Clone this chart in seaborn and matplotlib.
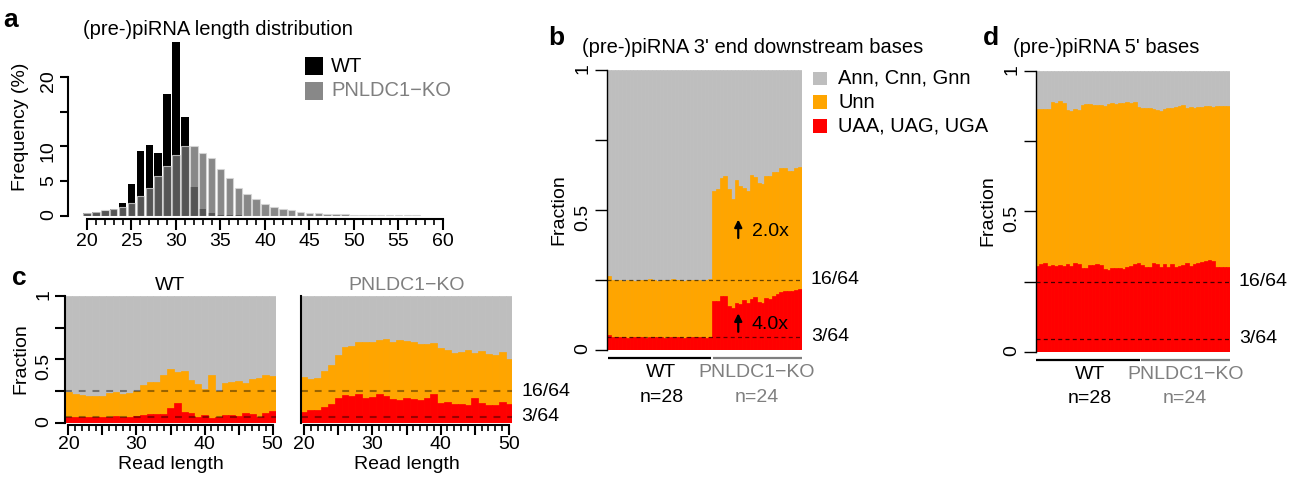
import numpy as np
import matplotlib
matplotlib.use("Agg")
import matplotlib.pyplot as plt
import seaborn as sns
from matplotlib.patches import Rectangle

# ---- data -------------------------------------------------------------
# a: read length distribution (%)
lengths = list(range(20, 61))
wt_freq = [0.45, 0.6, 0.75, 0.95, 1.9, 4.6, 9.3, 10.2, 9.1, 17.6, 25.1, 14.2, 4.2, 1.0,
           0.4, 0.15, 0.1, 0.08, 0.06, 0.05, 0.04, 0.03, 0.03, 0.02, 0.02, 0.02, 0.02,
           0.01, 0.01, 0.01, 0.01, 0.01, 0.01, 0.01, 0.01, 0.01, 0.01, 0.01, 0.01, 0.01, 0.01]
ko_freq = [0.5, 0.6, 0.8, 1.0, 1.3, 1.9, 2.9, 4.1, 5.7, 7.2, 8.8, 10.0, 10.1, 9.0, 8.3,
           6.8, 5.4, 4.1, 3.1, 2.4, 1.7, 1.3, 1.0, 0.8, 0.6, 0.5, 0.4, 0.33, 0.28, 0.25,
           0.2, 0.18, 0.15, 0.13, 0.12, 0.1, 0.1, 0.08, 0.07, 0.06, 0.05]

# c: 3' downstream bases by read length (fraction Unn incl. stops, fraction UAA/UAG/UGA)
c_len = list(range(20, 51))
c_wt_unn = [0.245, 0.226, 0.216, 0.21, 0.21, 0.21, 0.232, 0.242, 0.226, 0.234, 0.247,
            0.295, 0.32, 0.32, 0.38, 0.42, 0.40, 0.41, 0.337, 0.305, 0.263, 0.374,
            0.247, 0.31, 0.32, 0.33, 0.313, 0.342, 0.353, 0.374, 0.368]
c_wt_stop = [0.047, 0.042, 0.045, 0.045, 0.045, 0.045, 0.047, 0.053, 0.047, 0.047, 0.05,
             0.058, 0.066, 0.068, 0.068, 0.116, 0.155, 0.084, 0.076, 0.047, 0.058, 0.04,
             0.047, 0.06, 0.06, 0.053, 0.076, 0.068, 0.047, 0.074, 0.092]
c_ko_unn = [0.36, 0.342, 0.353, 0.41, 0.455, 0.534, 0.597, 0.605, 0.637, 0.637, 0.637,
            0.653, 0.658, 0.637, 0.653, 0.645, 0.64, 0.624, 0.624, 0.629, 0.59, 0.574,
            0.55, 0.56, 0.574, 0.55, 0.566, 0.545, 0.534, 0.558, 0.5]
c_ko_stop = [0.084, 0.1, 0.1, 0.124, 0.147, 0.195, 0.218, 0.21, 0.226, 0.195, 0.203,
             0.226, 0.21, 0.187, 0.179, 0.195, 0.187, 0.179, 0.195, 0.226, 0.155, 0.163,
             0.147, 0.147, 0.139, 0.195, 0.155, 0.139, 0.139, 0.163, 0.147]

# b: 3' end downstream bases per library (WT n=28, KO n=24)
b_wt_unn = [0.265, 0.250, 0.249, 0.251, 0.248, 0.250, 0.249, 0.247, 0.251, 0.250, 0.249,
            0.252, 0.250, 0.248, 0.249, 0.251, 0.250, 0.252, 0.249, 0.250, 0.248, 0.251,
            0.250, 0.249, 0.250, 0.248, 0.249, 0.252]
b_wt_stop = [0.053, 0.046, 0.045, 0.045, 0.046, 0.044, 0.045, 0.045, 0.046, 0.045, 0.044,
             0.045, 0.046, 0.045, 0.045, 0.044, 0.045, 0.046, 0.045, 0.045, 0.044, 0.045,
             0.045, 0.046, 0.045, 0.045, 0.044, 0.046]
b_ko_unn = [0.568, 0.574, 0.616, 0.621, 0.574, 0.538, 0.607, 0.587, 0.58, 0.568, 0.625,
            0.619, 0.595, 0.592, 0.621, 0.621, 0.636, 0.636, 0.649, 0.649, 0.64, 0.64,
            0.651, 0.655]
b_ko_stop = [0.175, 0.175, 0.194, 0.194, 0.158, 0.149, 0.169, 0.164, 0.179, 0.167, 0.182,
             0.19, 0.17, 0.167, 0.185, 0.182, 0.194, 0.199, 0.208, 0.21, 0.21, 0.212,
             0.214, 0.218]

# d: 5' bases per library
d_wt_unn = [0.863, 0.863, 0.865, 0.865, 0.89, 0.885, 0.892, 0.885, 0.861, 0.857, 0.863,
            0.861, 0.879, 0.881, 0.881, 0.879, 0.879, 0.879, 0.876, 0.881, 0.885, 0.881,
            0.885, 0.885, 0.888, 0.885, 0.888, 0.873]
d_wt_stop = [0.306, 0.311, 0.315, 0.306, 0.309, 0.305, 0.309, 0.305, 0.311, 0.307, 0.317,
             0.312, 0.299, 0.299, 0.309, 0.309, 0.311, 0.309, 0.295, 0.291, 0.297, 0.297,
             0.297, 0.295, 0.3, 0.306, 0.312, 0.315]
d_ko_unn = [0.869, 0.869, 0.867, 0.863, 0.861, 0.859, 0.863, 0.867, 0.867, 0.873, 0.876,
            0.879, 0.869, 0.873, 0.869, 0.873, 0.873, 0.875, 0.875, 0.873, 0.875, 0.874,
            0.875, 0.875]
d_ko_stop = [0.309, 0.3, 0.3, 0.315, 0.311, 0.3, 0.312, 0.303, 0.312, 0.3, 0.305, 0.31,
             0.315, 0.306, 0.312, 0.315, 0.321, 0.323, 0.325, 0.323, 0.302, 0.302, 0.3, 0.3]

legend_b = ['Ann, Cnn, Gnn', 'Unn', 'UAA, UAG, UGA']
ref_lines = [16 / 64, 3 / 64]
ref_labels = ['16/64', '3/64']

# ---- style ------------------------------------------------------------
sns.set_style("ticks", rc={'text.color': 'black', 'axes.labelcolor': 'black',
                           'xtick.color': 'black', 'ytick.color': 'black',
                           'axes.edgecolor': 'black'})
plt.rcParams['font.family'] = ['Liberation Sans', 'DejaVu Sans']
plt.rcParams['font.size'] = 14

GRAY, ORANGE, RED = '#BEBEBE', '#FFA500', '#FF0000'
KO_TXT = '#7F7F7F'
KO_BAR = (0.42, 0.42, 0.42)
FS = 14
FS_T = 14.5

W, H = 1290, 479
fig = plt.figure(figsize=(W / 100, H / 100), dpi=100)


def add_ax(l, t, r, b):
    return fig.add_axes([l / W, 1 - b / H, (r - l) / W, (b - t) / H])


def ftext(x, y, s, **kw):
    kw.setdefault('fontsize', FS)
    fig.text(x / W, 1 - y / H, s, **kw)


def stacked(ax, x, unn, stop):
    # full column (Ann/Cnn/Gnn), then Unn, then stop codons on top
    total = np.ones(len(x))
    for y, col in ((total, GRAY), (unn, ORANGE), (stop, RED)):
        sns.barplot(x=x, y=y, ax=ax, native_scale=True, orient='x', color=col,
                    saturation=1, width=1, errorbar=None, edgecolor=col, linewidth=0.5)


def frac_yaxis(ax, length, lw):
    ax.set_ylim(0, 1)
    ax.set_yticks([0, 0.25, 0.5, 0.75, 1])
    ax.set_yticklabels(['0', '', '0.5', '', '1'])
    ax.tick_params(axis='y', length=length, width=lw, labelsize=FS, labelrotation=90, pad=2)
    ax.spines['left'].set_linewidth(lw)
    ax.set_xlabel('')
    ax.set_ylabel('')


# ---- a: length distribution ------------------------------------------
ax_a = add_ax(68, 38, 450, 216)
sns.barplot(x=lengths, y=wt_freq, ax=ax_a, native_scale=True, orient='x', color='black',
            saturation=1, width=0.85, errorbar=None, linewidth=0)
sns.barplot(x=lengths, y=ko_freq, ax=ax_a, native_scale=True, orient='x', color=KO_BAR,
            saturation=1, width=0.85, errorbar=None, alpha=0.8, edgecolor='#d8d8d8',
            linewidth=0.8)
ax_a.set_xlim(17.865, 60.79)
ax_a.set_ylim(0, 25.61)
ax_a.set_xticks(range(20, 61, 5))
ax_a.set_xticks(range(20, 61), minor=True)
ax_a.set_yticks([0, 5, 10, 15, 20])
ax_a.set_yticklabels(['0', '5', '10', '', '20'])
sns.despine(ax=ax_a)
ax_a.spines['left'].set_bounds(0, 20)
ax_a.spines['bottom'].set_bounds(20, 60)
ax_a.spines['bottom'].set_position(('outward', 2))
for s in ('left', 'bottom'):
    ax_a.spines[s].set_linewidth(1.5)
ax_a.tick_params(axis='x', which='major', length=8, width=1.5, labelsize=FS, pad=2)
ax_a.tick_params(axis='x', which='minor', length=4.5, width=1.2)
ax_a.tick_params(axis='y', length=6, width=1.5, labelsize=FS, labelrotation=90, pad=2)
ax_a.set_xlabel('')
ax_a.set_ylabel('')
ftext(21, 127, 'Frequency (%)', rotation=90, ha='center', va='center')

# legend a
for i, (lab, col, tcol) in enumerate((('WT', 'black', 'black'),
                                      ('PNLDC1\u2212KO', KO_BAR, KO_TXT))):
    yc = 66 + i * 25
    fig.add_artist(Rectangle((305 / W, 1 - (yc + 9) / H), 18 / W, 18 / H,
                             transform=fig.transFigure, color=col,
                             alpha=1 if i == 0 else 0.8, lw=0))
    ftext(331, yc, lab, ha='left', va='center', color=tcol, fontsize=FS_T)

ftext(3, 27, 'a', fontsize=19, fontweight='bold', va='baseline')
ftext(83, 35, '(pre-)piRNA length distribution', va='baseline', fontsize=FS_T)

# ---- c: per read length ----------------------------------------------
ax_cw = add_ax(65, 296, 276, 422.7)
ax_ck = add_ax(300.6, 296, 512.4, 422.7)
for ax, unn, stop in ((ax_cw, c_wt_unn, c_wt_stop), (ax_ck, c_ko_unn, c_ko_stop)):
    stacked(ax, c_len, unn, stop)
    for yv in ref_lines:
        ax.axhline(yv, color='black', alpha=0.4, lw=1.5, dashes=(3.3, 3.3))
    ax.set_xlim(19.5, 50.5)
    frac_yaxis(ax, 7, 1.5)
    sns.despine(ax=ax)
    ax.spines['bottom'].set_bounds(20, 50)
    ax.spines['bottom'].set_position(('outward', 2))
    ax.spines['bottom'].set_linewidth(1.5)
    ax.set_xticks(range(20, 51, 5))
    ax.set_xticklabels(['20', '', '30', '', '40', '', '50'])
    ax.set_xticks(range(20, 51), minor=True)
    ax.tick_params(axis='x', which='major', length=7.5, width=1.5, labelsize=FS, pad=0)
    ax.tick_params(axis='x', which='minor', length=4.5, width=1.2)
ax_ck.tick_params(axis='y', left=False, labelleft=False)

ftext(170.5, 290, 'WT', ha='center', va='baseline')
ftext(406.5, 290, 'PNLDC1\u2212KO', ha='center', va='baseline', color=KO_TXT)
ftext(170.5, 469, 'Read length', ha='center', va='baseline')
ftext(406.5, 469, 'Read length', ha='center', va='baseline')
ftext(21, 359, 'Fraction', rotation=90, ha='center', va='center')
for yv, lab in zip(ref_lines, ref_labels):
    ftext(521.5, 422.7 - yv * 126.7, lab, ha='left', va='center')
ftext(12, 285, 'c', fontsize=19, fontweight='bold', va='baseline')


# ---- b and d: per library --------------------------------------------
def library_panel(ax, wt_unn, wt_stop, ko_unn, ko_stop, dash_kw):
    n_wt, n_ko = len(wt_unn), len(ko_unn)
    pos = np.arange(n_wt + n_ko) + 0.5
    stacked(ax, pos, np.r_[wt_unn, ko_unn], np.r_[wt_stop, ko_stop])
    for yv in ref_lines:
        ax.axhline(yv, **dash_kw)
    ax.set_xlim(0, n_wt + n_ko)
    frac_yaxis(ax, 9, 1.0)
    sns.despine(ax=ax, bottom=True)
    ax.set_xticks([])
    tr = ax.get_xaxis_transform()
    ax.plot([0.2, n_wt - 0.2], [-0.03, -0.03], color='black', lw=1.6, transform=tr,
            clip_on=False, solid_capstyle='butt')
    ax.plot([n_wt + 0.3, n_wt + n_ko], [-0.03, -0.03], color=KO_TXT, lw=1.6,
            transform=tr, clip_on=False, solid_capstyle='butt')
    ax.text(n_wt / 2 + 0.5, -0.082, 'WT', transform=tr, ha='center', va='center', fontsize=FS)
    ax.text(n_wt / 2 + 0.5, -0.168, 'n=%d' % n_wt, transform=tr, ha='center', va='center',
            fontsize=FS)
    ax.text(n_wt + n_ko / 2, -0.082, 'PNLDC1\u2212KO', transform=tr, ha='center',
            va='center', fontsize=FS, color=KO_TXT)
    ax.text(n_wt + n_ko / 2, -0.168, 'n=%d' % n_ko, transform=tr, ha='center',
            va='center', fontsize=FS, color=KO_TXT)
    for yv, lab in zip(ref_lines, ref_labels):
        ax.text(1.045, yv, lab, transform=ax.get_yaxis_transform(), ha='left',
                va='center', fontsize=FS)


dash_b = dict(color='black', alpha=0.6, lw=0.9, dashes=(3.2, 2.6))
ax_b = add_ax(607, 70, 802, 350)
library_panel(ax_b, b_wt_unn, b_wt_stop, b_ko_unn, b_ko_stop, dash_b)
n_wt_b = len(b_wt_unn)
for y0, y1, lab in ((0.40, 0.466, '2.0x'), (0.065, 0.131, '4.0x')):
    ax_b.annotate('', xy=(n_wt_b + 7, y1), xytext=(n_wt_b + 7, y0),
                  arrowprops=dict(arrowstyle='-|>', color='black', lw=1.6,
                                  mutation_scale=11, shrinkA=0, shrinkB=0))
    ax_b.text(n_wt_b + 10.6, (y0 + y1) / 2 - 0.008, lab, ha='left', va='center', fontsize=FS)
ftext(559, 210, 'Fraction', rotation=90, ha='center', va='center')
ftext(548, 45, 'b', fontsize=19, fontweight='bold', va='baseline')
ftext(581.5, 53, "(pre-)piRNA 3' end downstream bases", va='baseline', fontsize=FS_T)

for i, (lab, col) in enumerate(zip(legend_b, (GRAY, ORANGE, RED))):
    yc = 78.3 + i * 23.8
    fig.add_artist(Rectangle((813.3 / W, 1 - (yc + 6.7) / H), 13.4 / W, 13.4 / H,
                             transform=fig.transFigure, color=col, lw=0))
    ftext(838, yc, lab, ha='left', va='center', fontsize=FS_T)

dash_d = dict(color='black', alpha=0.75, lw=0.9, dashes=(3.2, 2.6))
ax_d = add_ax(1035.7, 71, 1230, 351.7)
library_panel(ax_d, d_wt_unn, d_wt_stop, d_ko_unn, d_ko_stop, dash_d)
ftext(988, 211, 'Fraction', rotation=90, ha='center', va='center')
ftext(983, 45, 'd', fontsize=19, fontweight='bold', va='baseline')
ftext(1013, 53, "(pre-)piRNA 5' bases", va='baseline', fontsize=FS_T)

fig.savefig('out.png', dpi=100)
